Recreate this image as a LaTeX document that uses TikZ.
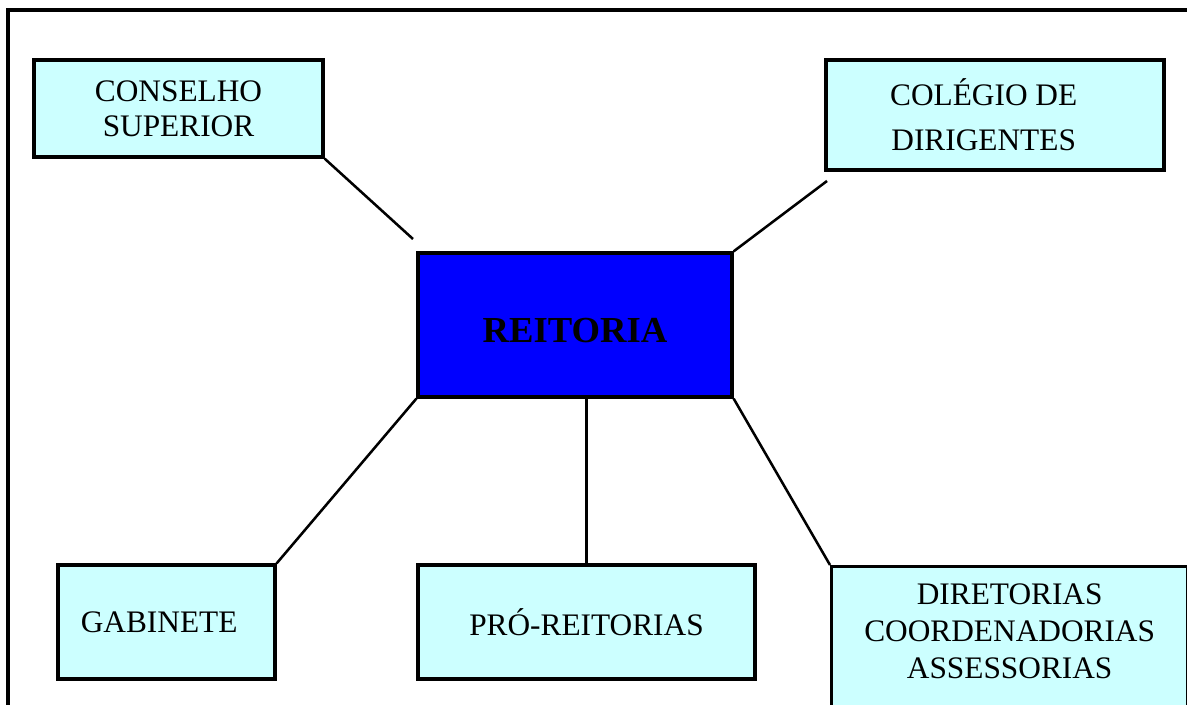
\documentclass[tikz,border=0pt]{standalone}
\usepackage{fontspec}
\setmainfont{Liberation Serif}
\definecolor{boxcyan}{RGB}{204,255,255}
\definecolor{reitblue}{RGB}{0,0,255}

\tikzset{every picture/.style={line width=1.9pt}}
\tikzset{
  orgbox/.style={draw, line width=2.5pt, fill=boxcyan, align=center, inner sep=0pt,
    font=\fontsize{23.5}{26.25}\selectfont},
  reitbox/.style={orgbox, fill=reitblue, font=\fontsize{27.5}{30}\selectfont\bfseries}
}

\begin{document}
\begin{tikzpicture}[x=0.75pt,y=0.75pt,yscale=-1]
  \clip (0,0) rectangle (1187,705);
  % moldura
  \draw [line width=3pt] (8,720) -- (8,10.5) -- (1200,10.5);

  \node (reitoria) [reitbox, minimum width=235.5pt, minimum height=108pt,
    text height=26pt, text depth=0pt] at (575,325) {REITORIA};
  \node (conselho) [orgbox, minimum width=216.75pt, minimum height=72.75pt] at (178.5,108.5) {CONSELHO\\SUPERIOR};
  \node (colegio) [orgbox, minimum width=253.5pt, minimum height=82.5pt,
    font=\fontsize{23.5}{33.75}\selectfont] at (995,115) {COL\'EGIO DE\kern17pt\\DIRIGENTES\kern17pt};
  \node (gabinete) [orgbox, minimum width=162.75pt, minimum height=85.5pt] at (166.5,622) {GABINETE\kern11pt};
  \node (pro) [orgbox, minimum width=252.75pt, minimum height=85.5pt] at (586.5,622) {PR\'O-REITORIAS};
  \node (diretorias) [orgbox, anchor=north west, minimum width=267pt, inner ysep=13pt,
    text depth=80pt, font=\fontsize{23.5}{27.75}\selectfont] at (830,565)
    {DIRETORIAS\\COORDENADORIAS\\ASSESSORIAS};

  \coordinate (csfim) at (413,239);
  \coordinate (cdini) at (827,181);

  \draw (conselho.south east) -- (csfim);
  \draw (cdini) -- (reitoria.north east);
  \draw (gabinete.north east) -- (reitoria.south west);
  \draw (reitoria.south -| pro.north) -- (pro.north);
  \draw (reitoria.south east) -- (diretorias.north west);
\end{tikzpicture}
\end{document}
